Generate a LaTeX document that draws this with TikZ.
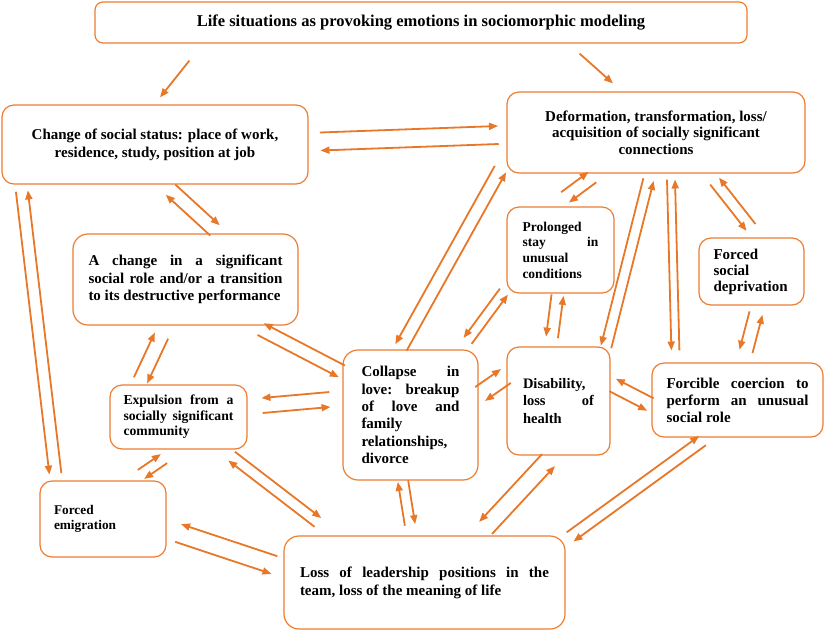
\documentclass[tikz,border=0pt]{standalone}
\usepackage{fontspec}
\setmainfont{Liberation Serif}
\usetikzlibrary{calc}
\usetikzlibrary{arrows.meta}

\definecolor{boxline}{RGB}{237,125,49}
\definecolor{arrowline}{RGB}{232,119,40}

\hyphenpenalty=10000
\exhyphenpenalty=10000
\tolerance=10000

\tikzset{
  box/.style={draw=boxline, line width=1.2pt, rounded corners=12pt, fill=white,
    inner sep=0pt, font=\bfseries},
  link/.style={draw=arrowline, line width=1.8pt, -{Triangle[length=9pt,width=7pt]}},
}

% two opposite arrows side by side, #1 = half gap
\newcommand\twoway[3][6]{%
  \draw[link] ($(#2)!#1pt!90:(#3)$) -- ($(#3)!#1pt!-90:(#2)$);
  \draw[link] ($(#3)!#1pt!90:(#2)$) -- ($(#2)!#1pt!-90:(#3)$);
}

\begin{document}
\begin{tikzpicture}[x=1pt, y=1pt]%
  \useasboundingbox (0,0) rectangle (825,-630);
  % situations
  \node[box, rounded corners=8pt, minimum width=652, minimum height=41,
    font=\bfseries\fontsize{16.5}{20}\selectfont]
    (title) at (421,-22.5) {Life situations as provoking emotions in sociomorphic modeling};
  \node[box, minimum width=306, minimum height=79, align=center,
    font=\bfseries\fontsize{15}{18}\selectfont]
    (status) at (155,-144.5) {Change of social status: place of work,\\ residence, study, position at job};
  \node[box, minimum width=298, minimum height=81, align=center,
    font=\bfseries\fontsize{15}{16.5}\selectfont]
    (deform) at (656,-132.5) {Deformation, transformation, loss/\\ acquisition of socially significant\\ connections};
  \node[box, rounded corners=15pt, minimum width=225, minimum height=91, text width=194, align=justify,
    font=\bfseries\fontsize{15}{17.5}\selectfont]
    (role) at (185.5,-279.5) {A change in a significant\linebreak social role and/or a transition\linebreak to its destructive performance};
  \node[box, rounded corners=15pt, minimum width=135, minimum height=130, text width=98, align=justify,
    font=\bfseries\fontsize{15}{17.3}\selectfont]
    (collapse) at (410.5,-415) {Collapse in\linebreak love: breakup\linebreak of love and\linebreak family\linebreak relationships,\linebreak divorce};
  \node[box, minimum width=103, minimum height=108, text width=71, align=justify,
    font=\bfseries\fontsize{14.5}{17.5}\selectfont]
    (disab) at (558.5,-401) {Disability,\linebreak loss of\linebreak health};
  \node[box, minimum width=107, minimum height=86, text width=76, align=justify,
    font=\bfseries\fontsize{13.5}{15.6}\selectfont]
    (prolong) at (560.5,-250) {Prolonged\linebreak stay in\linebreak unusual\linebreak conditions};
  \node[box, minimum width=105, minimum height=67, text width=76, align=left,
    font=\bfseries\fontsize{15}{16}\selectfont]
    (depriv) at (751.5,-271.5) {Forced\\ social\\ deprivation};
  \node[box, minimum width=171, minimum height=74, text width=142, align=justify,
    font=\bfseries\fontsize{15}{17}\selectfont]
    (forcible) at (737.5,-400) {Forcible coercion to\linebreak perform an unusual\linebreak social role};
  \node[box, minimum width=137, minimum height=64, text width=110, align=justify,
    font=\bfseries\fontsize{13.7}{15.5}\selectfont]
    (expul) at (178.5,-417) {Expulsion from a\linebreak socially significant\linebreak community};
  \node[box, minimum width=126, minimum height=76, text width=98, align=left,
    font=\bfseries\fontsize{13.3}{15}\selectfont]
    (emig) at (103,-519) {Forced\\ emigration};
  \node[box, rounded corners=15pt, minimum width=281, minimum height=93, text width=249, align=justify,
    font=\bfseries\fontsize{15}{18}\selectfont]
    (lead) at (424.5,-582.5) {Loss of leadership positions in the\linebreak team, loss of the meaning of life};

  % arrows
  \draw[link] ([xshift=95,yshift=-17]title.south west) -- ([xshift=5,yshift=7]status.north);
  \draw[link] ([xshift=-168,yshift=-10]title.south east) -- ([xshift=-43,yshift=8]deform.north);
  \twoway[9]{[xshift=11.5,yshift=3]status.east}{[xshift=-8,yshift=-2.5]deform.west}
  \twoway[-6]{[xshift=20.5,yshift=-6.5]status.south west}{[xshift=16,yshift=6.5]emig.north west}
  \twoway[7]{[xshift=15.5,yshift=-5]status.south}{[xshift=29.5,yshift=3]role.north}
  \twoway[-6.6]{[xshift=-38,yshift=-3.5]role.south east}{[xshift=-0.5,yshift=-22]collapse.north west}
  \twoway[7.3]{[xshift=-24,yshift=-10]role.south}{[xshift=-38,yshift=4]expul.north}
  \twoway[-7.5]{[xshift=-12.5,yshift=15.5]collapse.west}{[xshift=14.5,yshift=11.5]expul.east}
  \twoway[-6.5]{[xshift=-6,yshift=4.5]deform.south west}{[xshift=-9.5,yshift=2]collapse.north}
  \twoway[6.5]{[xshift=4.5,yshift=9]prolong.north}{[xshift=86,yshift=-3.5]deform.south west}
  \twoway[-5]{[xshift=-2.5,yshift=2]prolong.south west}{[xshift=-11,yshift=8.5]collapse.north east}
  \twoway[-6]{[xshift=-3,yshift=-1.5]prolong.south}{[xshift=-6.5,yshift=9]disab.north}
  \twoway[-5.3]{[xshift=-7.5,yshift=-6]deform.south}{[xshift=-4.5,yshift=-0.5]disab.north east}
  \twoway[-4]{[xshift=15,yshift=-6]deform.south}{[xshift=24,yshift=12]forcible.north west}
  \twoway[-5.6]{[xshift=-91,yshift=-7.5]deform.south east}{[xshift=-0.5,yshift=10]depriv.north}
  \twoway[-6.7]{[xshift=4.5,yshift=-7.5]depriv.south}{[xshift=8.5,yshift=11]forcible.north}
  \twoway[-7]{[xshift=-1,yshift=-4.5]forcible.west}{[xshift=2,yshift=16]disab.east}
  \twoway[8.5]{[xshift=1.5,yshift=21]collapse.east}{[xshift=-0.5,yshift=25]disab.west}
  \twoway[5.5]{[xshift=38,yshift=6]emig.north}{[xshift=-14.5,yshift=-9]expul.south}
  \twoway[5.5]{[xshift=-16,yshift=-6.5]expul.south east}{[xshift=34.5,yshift=13]lead.north west}
  \twoway[-9.3]{[xshift=-9,yshift=17.5]lead.west}{[xshift=11.5,yshift=-14]emig.east}
  \twoway[5.2]{[xshift=-14.5,yshift=10.5]lead.north}{[xshift=-7.5,yshift=-0.5]collapse.south}
  \twoway[-8.8]{[xshift=-10,yshift=-4.5]disab.south}{[xshift=-80,yshift=7.5]lead.north east}
  \twoway[5.7]{[xshift=4.5,yshift=-1.5]lead.north east}{[xshift=-35,yshift=-3]forcible.south}
\end{tikzpicture}
\end{document}
